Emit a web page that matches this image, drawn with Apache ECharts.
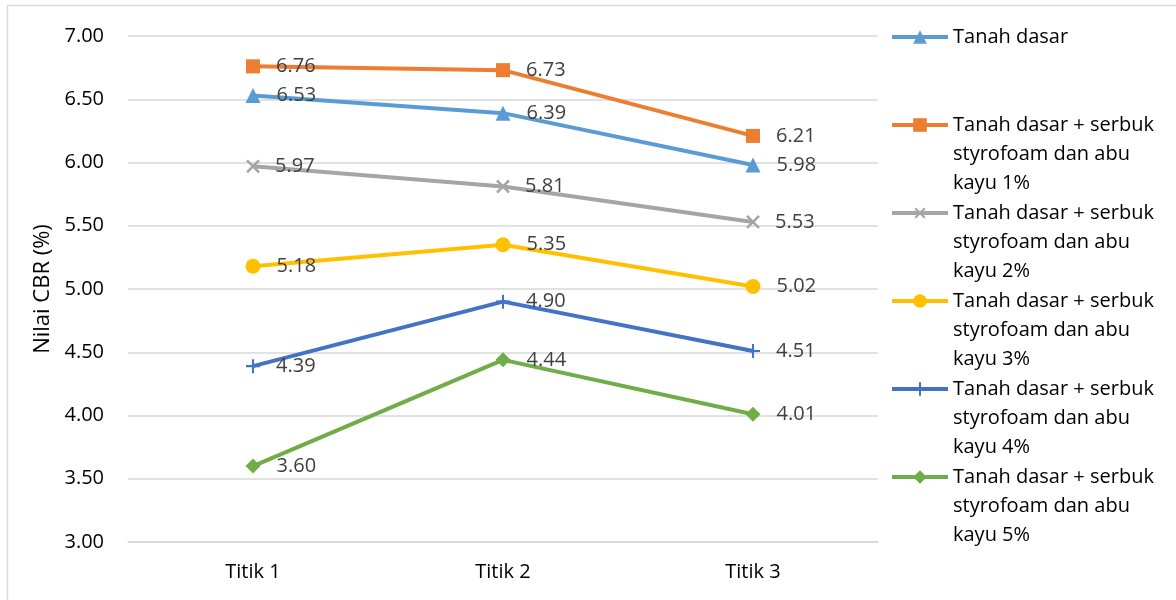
<!DOCTYPE html>
<html>
<head>
<meta charset="utf-8">
<script src="https://cdn.jsdelivr.net/npm/echarts@6/dist/echarts.min.js"></script>
<style>
  html, body { margin: 0; padding: 0; background: #ffffff; }
  #chart { width: 1176px; height: 600px; }
</style>
</head>
<body>
<div id="chart"></div>
<script>
// CBR values per test point for each soil mix
const categories = ['Titik 1', 'Titik 2', 'Titik 3'];
const yTicks = { min: 3, max: 7, interval: 0.5 };

const tanahDasar = [6.53, 6.39, 5.98];
const campuran1 = [6.76, 6.73, 6.21];
const campuran2 = [5.97, 5.81, 5.53];
const campuran3 = [5.18, 5.35, 5.02];
const campuran4 = [4.39, 4.90, 4.51];
const campuran5 = [3.60, 4.44, 4.01];

const seriesNames = [
  'Tanah dasar',
  'Tanah dasar + serbuk\nstyrofoam dan abu\nkayu 1%',
  'Tanah dasar + serbuk\nstyrofoam dan abu\nkayu 2%',
  'Tanah dasar + serbuk\nstyrofoam dan abu\nkayu 3%',
  'Tanah dasar + serbuk\nstyrofoam dan abu\nkayu 4%',
  'Tanah dasar + serbuk\nstyrofoam dan abu\nkayu 5%'
];

const FONT = 'Open Sans';
const PLUS = 'path://M8.5,0H11.5V8.5H20V11.5H11.5V20H8.5V11.5H0V8.5H8.5Z';

function makeSeries(name, data, color, symbol, size, rotate, dist) {
  return {
    name: name,
    type: 'line',
    data: data,
    symbol: symbol,
    symbolSize: size,
    symbolRotate: rotate || 0,
    showAllSymbol: true,
    lineStyle: { color: color, width: 4 },
    itemStyle: { color: color, borderWidth: 0 },
    label: {
      show: true,
      position: 'right',
      distance: dist,
      color: '#404040',
      fontFamily: FONT,
      fontSize: 20,
      formatter: p => p.value.toFixed(2)
    },
    emphasis: { disabled: true },
    animation: false
  };
}

const chart = echarts.init(document.getElementById('chart'), null, { renderer: 'canvas' });

chart.setOption({
  backgroundColor: '#ffffff',
  animation: false,
  graphic: [{
    type: 'rect',
    shape: { x: 7.5, y: 5.5, width: 1300, height: 700 },
    style: { fill: 'none', stroke: '#d9d9d9', lineWidth: 1.5 },
    silent: true,
    z: -10
  }],
  grid: { left: 128, right: 298, top: 36, bottom: 58 },
  legend: {
    orient: 'vertical',
    left: 890,
    top: -35.5,
    padding: 0,
    itemWidth: 56,
    itemHeight: 17,
    itemGap: -57,
    align: 'left',
    selectedMode: false,
    lineStyle: { width: 4 },
    formatter: name => '\n\n' + name + (name.indexOf('\n') < 0 ? '\n\n' : ''),
    textStyle: { fontFamily: FONT, fontSize: 20, color: '#000000', lineHeight: 29 },
    data: seriesNames
  },
  xAxis: {
    type: 'category',
    data: categories,
    boundaryGap: true,
    axisLine: { show: true, lineStyle: { color: '#d9d9d9', width: 1.5 } },
    axisTick: { show: false },
    axisLabel: { color: '#000000', fontFamily: FONT, fontSize: 20, margin: 20 }
  },
  yAxis: {
    type: 'value',
    min: yTicks.min,
    max: yTicks.max,
    interval: yTicks.interval,
    name: 'Nilai CBR (%)',
    nameLocation: 'middle',
    nameGap: 72,
    nameTextStyle: { color: '#000000', fontFamily: FONT, fontSize: 22 },
    axisLine: { show: false },
    axisTick: { show: false },
    splitLine: { lineStyle: { color: '#d9d9d9', width: 1.5 } },
    axisLabel: {
      color: '#000000', fontFamily: FONT, fontSize: 20, margin: 24,
      formatter: v => v.toFixed(2)
    }
  },
  series: [
    makeSeries(seriesNames[0], tanahDasar, '#5b9bd5', 'triangle', 15, 0, 16),
    makeSeries(seriesNames[1], campuran1, '#ed7d31', 'rect', 14, 0, 16),
    makeSeries(seriesNames[2], campuran2, '#a5a5a5', PLUS, 17, 45, 10),
    makeSeries(seriesNames[3], campuran3, '#ffc000', 'circle', 15, 0, 16),
    makeSeries(seriesNames[4], campuran4, '#4472c4', PLUS, 14, 0, 16),
    makeSeries(seriesNames[5], campuran5, '#70ad47', 'diamond', 15, 0, 16)
  ]
});
</script>
</body>
</html>
